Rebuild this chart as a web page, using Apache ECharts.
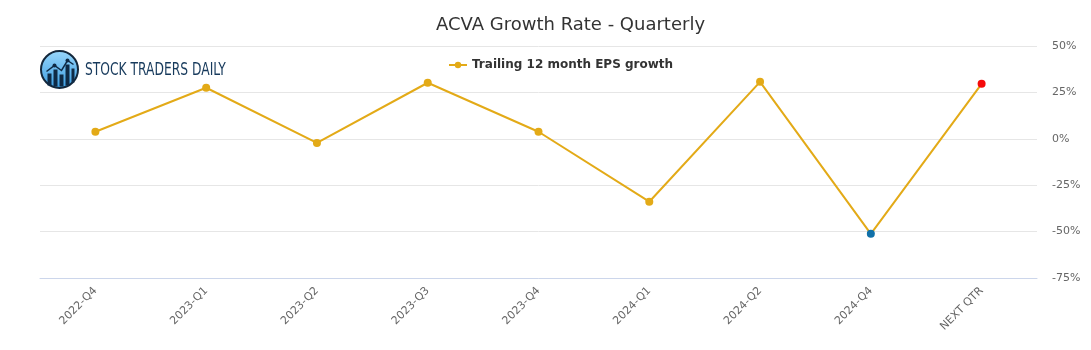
<!DOCTYPE html>
<html>
<head>
<meta charset="utf-8">
<script src="https://cdn.jsdelivr.net/npm/echarts@6/dist/echarts.min.js"></script>
<style>
  html, body { margin: 0; padding: 0; background: #fff; }
  #chart { width: 1091px; height: 350px; }
</style>
</head>
<body>
<div id="chart"></div>
<script>
// 季度标签
const quarters = ['2022-Q4', '2023-Q1', '2023-Q2', '2023-Q3', '2023-Q4', '2024-Q1', '2024-Q2', '2024-Q4', 'NEXT QTR'];
// 增长率 (%)
const growth = [3.8, 27.5, -2.2, 30.2, 3.8, -33.9, 30.7, -51.2, 29.6];
// 纵轴刻度
const yTicks = [-75, -50, -25, 0, 25, 50];

const lineColor = '#e3aa17';
// 特殊点颜色
const pointColors = { 7: '#1070a8', 8: '#f50a0a' };

const chart = echarts.init(document.getElementById('chart'));

const option = {
    backgroundColor: '#fff',
    animation: false,
    title: {
        text: 'ACVA Growth Rate - Quarterly',
        left: 431,
        top: 11,
        textStyle: { fontFamily: 'DejaVu Sans', fontSize: 18, fontWeight: 'normal', color: '#333' }
    },
    legend: {
        top: 54,
        left: 443,
        data: ['Trailing 12 month EPS growth'],
        itemWidth: 18,
        itemHeight: 8,
        itemGap: 6,
        textStyle: { fontFamily: 'DejaVu Sans', fontSize: 12, fontWeight: 'bold', color: '#333' }
    },
    grid: { left: 40, right: 54, top: 46, bottom: 72 },
    xAxis: {
        type: 'category',
        data: quarters,
        boundaryGap: true,
        axisLine: { onZero: false, lineStyle: { color: '#ccd6eb' } },
        axisTick: { show: false },
        axisLabel: { rotate: 45, color: '#666', fontSize: 11, fontFamily: 'DejaVu Sans', margin: 11 }
    },
    yAxis: {
        type: 'value',
        position: 'right',
        min: yTicks[0],
        max: yTicks[yTicks.length - 1],
        interval: 25,
        axisLine: { show: false },
        axisTick: { show: false },
        splitLine: { lineStyle: { color: '#e6e6e6' } },
        axisLabel: { formatter: '{value}%', color: '#666', fontSize: 11, fontFamily: 'DejaVu Sans', margin: 15, align: 'left' }
    },
    series: [{
        name: 'Trailing 12 month EPS growth',
        type: 'line',
        data: growth.map((v, i) => pointColors[i] ? { value: v, itemStyle: { color: pointColors[i] } } : v),
        symbol: 'circle',
        symbolSize: 8,
        itemStyle: { color: lineColor },
        lineStyle: { color: lineColor, width: 2 }
    }],
    graphic: [
        {
            type: 'group',
            left: 40,
            top: 50,
            children: [
                {
                    type: 'circle',
                    shape: { cx: 19, cy: 20, r: 18.5 },
                    style: {
                        fill: new echarts.graphic.LinearGradient(0, 0, 0, 1, [
                            { offset: 0, color: '#9ad8fc' },
                            { offset: 1, color: '#3a9be0' }
                        ]),
                        stroke: '#14283c',
                        lineWidth: 2
                    }
                },
                { type: 'rect', shape: { x: 7, y: 24, width: 4, height: 12 }, style: { fill: '#0f2a45' } },
                { type: 'rect', shape: { x: 13, y: 20, width: 4, height: 17 }, style: { fill: '#0f2a45' } },
                { type: 'rect', shape: { x: 19, y: 25, width: 4, height: 12 }, style: { fill: '#0f2a45' } },
                { type: 'rect', shape: { x: 25, y: 15, width: 4, height: 21 }, style: { fill: '#0f2a45' } },
                { type: 'rect', shape: { x: 31, y: 19, width: 3, height: 14 }, style: { fill: '#0f2a45' } },
                {
                    type: 'polyline',
                    shape: { points: [[6, 22], [14, 16], [21, 21], [27, 11], [33, 15]] },
                    style: { stroke: '#0f2a45', lineWidth: 1.5, fill: null }
                },
                { type: 'circle', shape: { cx: 14, cy: 16, r: 2 }, style: { fill: '#0f2a45' } },
                { type: 'circle', shape: { cx: 27, cy: 11, r: 2 }, style: { fill: '#0f2a45' } }
            ]
        },
        {
            type: 'text',
            left: 85,
            top: 61,
            style: {
                text: 'STOCK TRADERS DAILY',
                fontFamily: 'DejaVu Sans Condensed',
                fontSize: 18,
                fill: '#173a5c'
            },
            scaleX: 0.76
        }
    ]
};

chart.setOption(option);
</script>
</body>
</html>
